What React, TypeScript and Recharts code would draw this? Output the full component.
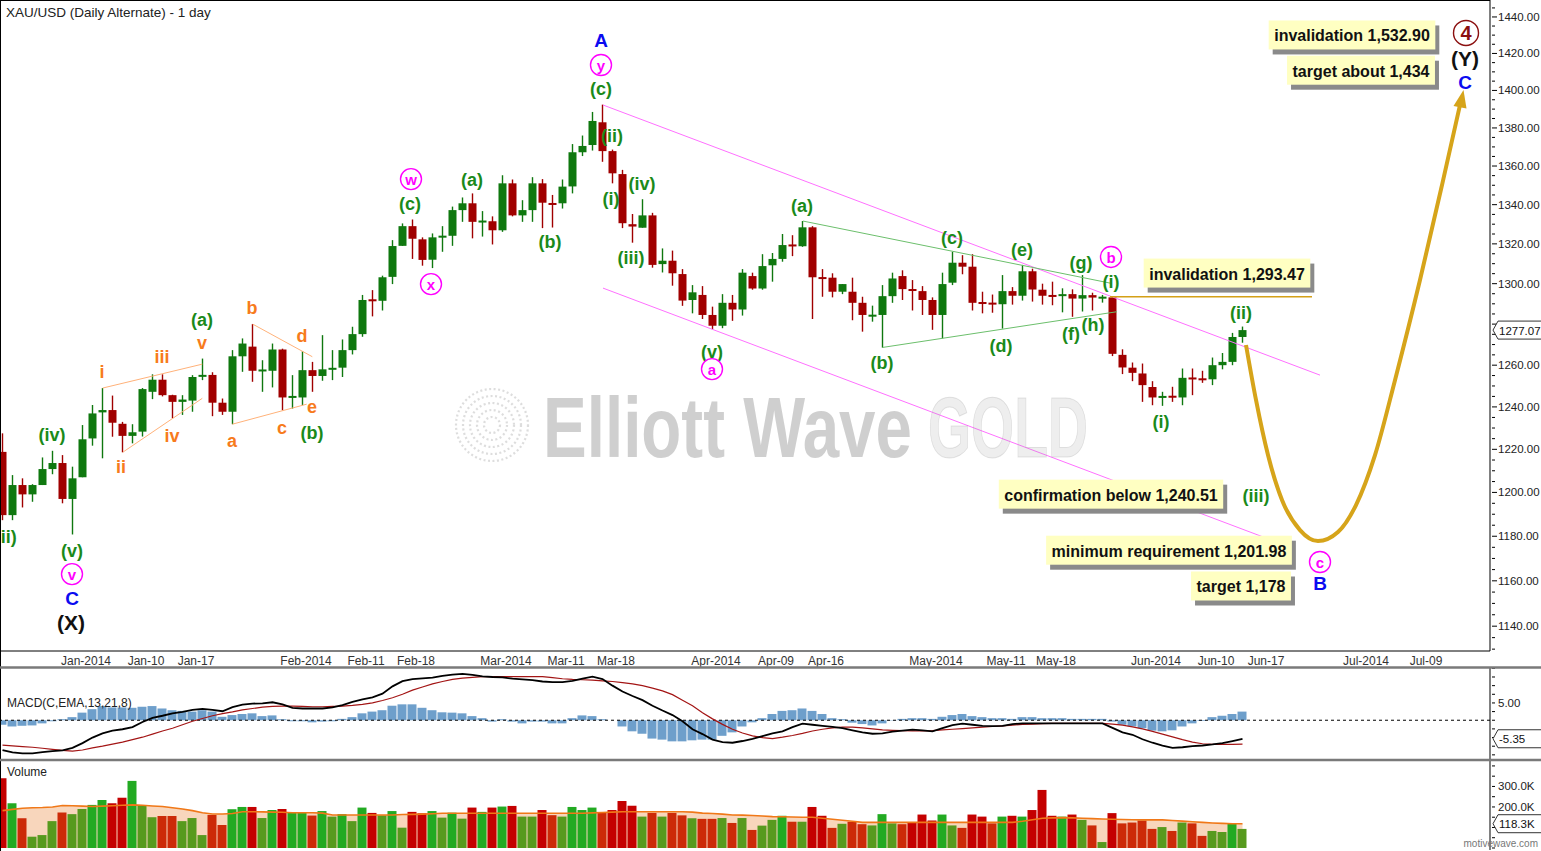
import React from 'react';
import {
  Area,
  Bar,
  Cell,
  ComposedChart,
  Line,
  ReferenceDot,
  ReferenceLine,
  XAxis,
  YAxis,
} from 'recharts';

const WIDTH = 1541;
const AXIS_W = 51;
const X_DOMAIN: [number, number] = [-0.25, 148.75];
const PRICE_DOMAIN: [number, number] = [1129.2, 1449.4];
const MACD_DOMAIN: [number, number] = [-11.2, 15.1];
const VOL_DOMAIN: [number, number] = [-9.8, 424];
const FONT = '"Liberation Sans", Arial, sans-serif';

const UP = '#0f780f';
const DOWN = '#a00000';
const GOLD = '#d6a41a';

// daily candles, index 0 .. 124 (last = Jun 13 2014): open, high, low, close
const candles: [number, number, number, number][] = [
  [1218.8, 1227.5, 1187.3, 1189.6], [1189.6, 1208.0, 1187.3, 1203.4], [1203.4, 1206.5, 1193.1, 1199.1],
  [1199.1, 1203.8, 1195.7, 1203.4], [1203.4, 1216.2, 1203.4, 1210.8], [1210.8, 1219.3, 1208.4, 1213.6],
  [1213.6, 1217.3, 1195.0, 1197.0], [1197.0, 1211.9, 1180.8, 1206.5], [1207.0, 1231.4, 1207.0, 1224.7],
  [1225.1, 1240.9, 1221.7, 1236.9], [1237.4, 1249.0, 1215.8, 1238.5], [1238.5, 1245.4, 1225.9, 1232.5],
  [1232.0, 1232.9, 1218.6, 1226.3], [1226.3, 1231.8, 1222.8, 1228.0], [1228.3, 1249.0, 1226.0, 1248.5],
  [1247.2, 1255.6, 1243.7, 1253.0], [1253.0, 1255.6, 1245.0, 1245.6], [1245.6, 1245.8, 1234.6, 1242.4],
  [1242.4, 1245.6, 1236.2, 1243.5], [1243.0, 1255.2, 1237.7, 1254.3], [1254.4, 1263.2, 1252.8, 1255.3],
  [1255.3, 1256.6, 1235.6, 1242.0], [1242.0, 1244.0, 1236.2, 1237.7], [1237.7, 1267.3, 1231.8, 1264.3],
  [1264.3, 1273.0, 1256.8, 1270.5], [1269.0, 1280.0, 1252.0, 1257.3], [1257.3, 1262.4, 1247.2, 1257.6],
  [1257.3, 1270.5, 1249.3, 1267.6], [1267.6, 1268.0, 1238.4, 1244.5], [1244.5, 1255.2, 1239.2, 1245.0],
  [1244.5, 1266.8, 1240.8, 1257.6], [1257.6, 1261.6, 1247.2, 1254.8], [1254.8, 1274.6, 1252.5, 1258.0],
  [1258.0, 1267.3, 1252.8, 1258.5], [1258.8, 1272.5, 1254.3, 1267.3], [1267.3, 1278.7, 1265.2, 1275.1],
  [1275.1, 1294.4, 1273.8, 1291.9], [1292.0, 1296.8, 1283.8, 1291.5], [1291.5, 1304.0, 1286.7, 1303.2],
  [1303.4, 1321.9, 1299.8, 1318.9], [1319.0, 1330.4, 1319.0, 1329.0], [1329.0, 1332.4, 1312.4, 1322.6],
  [1322.3, 1323.3, 1309.0, 1311.9], [1312.0, 1325.3, 1307.8, 1323.3], [1323.3, 1329.0, 1316.0, 1324.0],
  [1324.1, 1339.0, 1319.0, 1337.2], [1337.2, 1343.7, 1331.2, 1340.7], [1340.7, 1345.8, 1322.8, 1331.2],
  [1331.2, 1336.7, 1323.7, 1331.5], [1331.5, 1334.0, 1319.7, 1326.9], [1326.9, 1355.2, 1326.1, 1351.0],
  [1351.0, 1353.0, 1334.0, 1334.5], [1334.5, 1342.3, 1331.2, 1337.2], [1337.2, 1354.2, 1331.2, 1351.0],
  [1351.0, 1353.2, 1328.0, 1341.0], [1340.5, 1345.0, 1328.3, 1340.2], [1340.7, 1353.0, 1338.0, 1349.3],
  [1349.4, 1371.5, 1345.8, 1367.2], [1367.2, 1376.0, 1365.2, 1370.5], [1371.0, 1388.5, 1368.1, 1383.7],
  [1383.0, 1392.4, 1362.2, 1367.8], [1367.8, 1368.6, 1351.0, 1356.2], [1355.8, 1358.0, 1328.0, 1330.5],
  [1330.0, 1335.2, 1320.6, 1328.8], [1328.2, 1342.8, 1328.2, 1334.5], [1334.5, 1335.8, 1308.0, 1309.4],
  [1309.8, 1317.7, 1305.6, 1311.5], [1311.5, 1316.6, 1299.0, 1305.2], [1304.8, 1307.3, 1289.0, 1291.6],
  [1291.9, 1299.3, 1285.3, 1295.7], [1294.4, 1298.8, 1282.5, 1284.5], [1284.5, 1288.6, 1277.4, 1279.2],
  [1279.2, 1294.8, 1278.0, 1290.5], [1290.5, 1294.4, 1281.6, 1287.2], [1287.2, 1307.3, 1284.2, 1305.5],
  [1303.8, 1305.5, 1297.0, 1297.6], [1297.6, 1314.8, 1297.0, 1308.8], [1309.2, 1315.4, 1301.0, 1312.4],
  [1312.4, 1325.0, 1311.0, 1319.4], [1319.4, 1324.4, 1313.8, 1319.0], [1318.8, 1331.6, 1318.5, 1328.4],
  [1328.4, 1329.0, 1282.5, 1303.2], [1303.0, 1307.3, 1293.5, 1302.6], [1303.0, 1305.2, 1293.2, 1296.0],
  [1296.0, 1299.8, 1294.8, 1299.8], [1296.0, 1303.0, 1281.9, 1290.5], [1290.5, 1293.5, 1276.3, 1284.5],
  [1284.0, 1289.1, 1281.2, 1284.3], [1284.5, 1299.3, 1268.5, 1293.8], [1293.8, 1305.5, 1290.5, 1302.6],
  [1303.8, 1306.7, 1291.9, 1297.3], [1297.2, 1301.8, 1286.7, 1296.5], [1296.3, 1298.8, 1284.5, 1291.9],
  [1291.9, 1293.2, 1277.2, 1284.5], [1284.5, 1305.5, 1273.0, 1299.8], [1300.5, 1316.0, 1299.3, 1310.5],
  [1310.5, 1314.3, 1304.7, 1308.5], [1308.5, 1314.8, 1286.7, 1290.5], [1290.5, 1296.0, 1285.3, 1290.3],
  [1290.2, 1294.6, 1285.6, 1290.0], [1289.8, 1304.3, 1277.8, 1296.3], [1296.3, 1298.3, 1289.6, 1294.0],
  [1294.0, 1309.4, 1291.6, 1306.2], [1306.2, 1307.5, 1291.1, 1297.1], [1297.0, 1300.0, 1289.6, 1294.0],
  [1294.0, 1301.0, 1289.3, 1293.8], [1293.8, 1297.7, 1285.8, 1294.8], [1294.8, 1297.2, 1283.6, 1292.6],
  [1292.6, 1304.3, 1286.2, 1294.3], [1294.3, 1295.5, 1286.7, 1293.1], [1292.9, 1294.4, 1290.6, 1293.2],
  [1293.2, 1293.5, 1264.4, 1265.5], [1265.0, 1267.7, 1255.7, 1258.9], [1258.8, 1261.3, 1252.3, 1256.3],
  [1256.0, 1260.8, 1242.4, 1250.4], [1249.5, 1252.3, 1240.8, 1244.5], [1244.6, 1247.2, 1240.5, 1244.9],
  [1245.0, 1249.6, 1242.4, 1244.7], [1244.5, 1258.4, 1240.8, 1253.9], [1253.9, 1258.4, 1245.6, 1253.3],
  [1253.6, 1257.3, 1251.5, 1252.8], [1253.2, 1263.7, 1250.4, 1260.0], [1260.0, 1265.9, 1258.0, 1261.6],
  [1261.6, 1275.7, 1260.0, 1273.7], [1273.7, 1278.8, 1270.9, 1277.07],
];

// volume in thousands
const volume = [
  340, 218, 145, 55, 63, 131, 173, 165, 190, 210,
  234, 218, 245, 327, 206, 150, 156, 156, 131, 146,
  63, 161, 112, 189, 200, 200, 146, 185, 190, 173,
  173, 158, 180, 153, 165, 131, 197, 171, 159, 180,
  99, 176, 169, 180, 148, 172, 143, 197, 176, 197,
  202, 205, 153, 153, 185, 160, 153, 200, 185, 197,
  173, 185, 229, 206, 153, 171, 153, 171, 159, 145,
  142, 142, 146, 122, 146, 88, 109, 137, 157, 128,
  128, 200, 157, 98, 118, 128, 116, 110, 165, 120,
  116, 126, 163, 134, 163, 110, 98, 163, 153, 120,
  153, 157, 153, 185, 283, 157, 153, 163, 137, 110,
  29, 170, 120, 124, 134, 93, 102, 83, 124, 120,
  59, 83, 78, 120, 93,
];

const volumeAvg = [
  182, 188, 194, 196, 197, 200, 207, 206, 204, 202,
  204, 206, 208, 210, 208, 205, 202, 196, 190, 182,
  172, 166, 166, 168, 177, 177, 176, 175, 174, 172,
  172, 172, 170, 161, 161, 161, 161, 161, 161, 161,
  163, 164, 165, 167, 169, 169, 169, 169, 169, 169,
  169, 169, 169, 169, 169, 169, 169, 169, 169, 171,
  173, 175, 177, 177, 177, 177, 177, 177, 177, 175,
  170, 168, 165, 161, 160, 158, 156, 153, 152, 151,
  150, 150, 145, 140, 135, 130, 125, 125, 125, 125,
  125, 125, 125, 125, 125, 125, 125, 125, 125, 125,
  125, 125, 130, 138, 145, 147, 148, 147, 145, 143,
  141, 140, 139, 138, 137, 137, 137, 134, 131, 128,
  125, 122, 120, 118.5, 118.3,
];

const macdLine = [
  -8.6, -9.3, -9.6, -9.6, -9.2, -8.9, -8.7, -8.0, -6.6, -5.0,
  -3.8, -3.0, -2.6, -2.0, -0.5, 0.7, 1.3, 2.0, 2.4, 3.0,
  3.3, 3.0, 2.6, 3.8, 4.5, 4.8, 4.9, 5.2, 4.6, 3.6,
  3.4, 3.4, 3.4, 3.7, 4.4, 5.3, 6.0, 6.6, 7.7, 9.8,
  11.3, 11.9, 12.1, 12.3, 12.8, 13.2, 13.4, 13.1, 12.7, 12.5,
  12.4, 12.0, 11.8, 11.6, 11.2, 11.0, 11.0, 11.4, 12.0, 12.6,
  11.9, 10.0, 8.3, 7.0, 5.8, 4.2, 2.8, 1.5, -0.3, -2.6,
  -4.0, -5.6, -6.3, -6.5, -6.0, -5.4, -4.6, -3.8, -3.2, -2.0,
  -1.0, -1.3, -1.6, -1.9, -2.3, -2.9, -3.5, -3.9, -3.8, -3.3,
  -3.0, -2.7, -2.9, -3.2, -2.3, -1.4, -1.0, -1.3, -1.6, -1.7,
  -1.6, -1.1, -0.9, -0.9, -0.9, -0.9, -0.9, -0.9, -0.9, -0.9,
  -0.9, -2.2, -3.5, -4.2, -5.5, -6.5, -7.3, -8.0, -7.8, -7.5,
  -7.3, -7.0, -6.6, -6.0, -5.35,
];

const signalLine = [
  -7.2, -7.4, -7.6, -7.8, -8.1, -8.4, -8.7, -8.9, -8.6, -8.0,
  -7.5, -6.9, -6.3, -5.6, -4.9, -4.0, -3.1, -2.3, -1.3, -0.3,
  0.5, 1.3, 1.9, 2.4, 3.0, 3.4, 3.8, 4.0, 4.1, 4.1,
  4.0, 3.9, 3.9, 4.0, 4.1, 4.3, 4.6, 5.0, 5.7, 6.5,
  7.5, 8.7, 9.6, 10.5, 11.2, 11.8, 12.2, 12.4, 12.6, 12.6,
  12.6, 12.6, 12.6, 12.6, 12.6, 12.3, 12.0, 11.8, 11.7, 11.6,
  11.4, 11.2, 10.9, 10.5, 10.0, 9.3, 8.5, 7.4, 5.8, 4.2,
  2.2, 0.4, -1.2, -2.6, -3.7, -4.5, -5.0, -5.3, -4.9, -4.4,
  -3.8, -3.1, -2.6, -2.2, -2.0, -2.0, -2.2, -2.5, -2.8, -2.9,
  -3.0, -3.1, -3.1, -3.0, -2.8, -2.6, -2.4, -2.2, -2.0, -1.8,
  -1.6, -1.4, -1.2, -1.1, -1.0, -0.9, -0.9, -0.9, -0.9, -0.9,
  -0.9, -1.1, -1.4, -1.9, -2.5, -3.2, -4.0, -4.8, -5.6, -6.3,
  -6.8, -7.0, -7.0, -7.0, -6.9,
];

const histogram = [
  -1.3, -1.8, -1.6, -1.5, -0.9, -0.3, 0.3, 0.9, 2.2, 3.2,
  4.1, 3.7, 3.7, 3.6, 3.9, 4.1, 3.4, 2.9, 2.7, 2.5,
  2.9, 2.5, 1.0, 1.5, 1.8, 2.0, 1.2, 1.4, 0.3, -0.3,
  -0.3, -0.6, -0.4, -0.3, 0.4, 0.9, 2.0, 2.5, 2.9, 4.2,
  4.6, 4.6, 3.6, 2.9, 2.3, 2.2, 2.0, 1.2, 0.6, -0.4,
  0.3, -0.4, -0.9, -0.4, -0.4, -0.9, -0.9, 0.6, 1.4, 1.2,
  0.3, 0.0, -1.8, -3.2, -3.9, -5.3, -5.6, -6.1, -6.1, -5.8,
  -5.6, -5.6, -4.5, -3.5, -1.8, -0.6, 0.6, 1.8, 2.7, 2.9,
  3.4, 2.7, 1.8, 0.6, 0.3, -0.7, -1.1, -1.5, -0.9, -0.1,
  0.4, 0.6, 0.6, 0.4, 1.0, 1.5, 1.8, 1.2, 0.9, 0.6,
  0.6, 0.4, 0.9, 0.9, 0.6, 0.6, 0.6, 0.4, 0.4, 0.4,
  0.4, -0.4, -1.3, -1.8, -2.3, -3.0, -3.2, -2.9, -1.8, -0.9,
  -0.2, 0.9, 1.3, 1.8, 2.5,
];

const dateTicks = [8, 14, 19, 30, 36, 41, 50, 56, 61, 71, 77, 82, 93, 100, 105, 115, 121, 126, 136, 142];
const dateLabels = [
  'Jan-2014', 'Jan-10', 'Jan-17', 'Feb-2014', 'Feb-11', 'Feb-18', 'Mar-2014', 'Mar-11', 'Mar-18',
  'Apr-2014', 'Apr-09', 'Apr-16', 'May-2014', 'May-11', 'May-18', 'Jun-2014', 'Jun-10', 'Jun-17',
  'Jul-2014', 'Jul-09',
];

const priceLabels = [1140, 1160, 1180, 1200, 1220, 1240, 1260, 1280, 1300, 1320, 1340, 1360, 1380, 1400, 1420, 1440];

// projected path for wave C
const projIdx = [124.35, 125.35, 126.55, 127.95, 129.75, 131.55, 133.55, 135.35, 137.25, 139.25, 141.75, 143.95, 145.75];
const projPrice = [1269.8, 1243.3, 1217.3, 1196.5, 1182.8, 1177.8, 1181.9, 1194.2, 1217.3, 1252.8, 1301.8, 1350.1, 1392.2];

// wave labels: [index, price, text]
const greenLabels: [number, number, string][] = [
  [0.32, 1179.6, '(ii)'], [4.95, 1226.7, '(iv)'], [6.95, 1173.3, '(v)'], [19.95, 1282.0, '(a)'],
  [30.95, 1227.6, '(b)'], [40.75, 1340.3, '(c)'], [46.95, 1352.7, '(a)'], [54.75, 1320.8, '(b)'],
  [59.85, 1400.8, '(c)'], [60.95, 1375.7, '(ii)'], [60.85, 1342.9, '(i)'], [63.95, 1350.6, '(iv)'],
  [62.85, 1312.9, '(iii)'], [70.95, 1266.4, '(v)'], [79.95, 1339.3, '(a)'], [87.95, 1261.0, '(b)'],
  [94.95, 1323.0, '(c)'], [99.85, 1269.3, '(d)'], [101.95, 1316.9, '(e)'], [106.85, 1275.1, '(f)'],
  [107.85, 1310.3, '(g)'], [109.05, 1279.5, '(h)'], [110.85, 1300.8, '(i)'], [123.85, 1285.4, '(ii)'],
  [115.85, 1232.8, '(i)'], [125.35, 1198.3, '(iii)'],
];
const orangeLabels: [number, number, string][] = [
  [9.95, 1256.7, 'i'], [11.85, 1211.7, 'ii'], [15.95, 1263.9, 'iii'], [16.95, 1226.2, 'iv'],
  [19.95, 1270.7, 'v'], [22.95, 1223.9, 'a'], [24.95, 1287.9, 'b'], [27.95, 1230.0, 'c'],
  [29.95, 1274.2, 'd'], [30.95, 1239.9, 'e'],
];
const minuteLabels: [number, number, string][] = [
  [6.95, 1163.0, 'v'], [40.85, 1353.2, 'w'], [42.85, 1299.8, 'x'], [59.85, 1413.7, 'y'],
  [70.95, 1258.1, 'a'], [110.85, 1313.4, 'b'], [131.75, 1168.4, 'c'],
];
const minorLabels: [number, number, string][] = [
  [59.85, 1426.8, 'A'], [6.95, 1152.3, 'C'], [131.75, 1158.6, 'B'], [146.25, 1404.0, 'C'],
];
const intermediateLabels: [number, number, string][] = [
  [6.85, 1141.8, '(X)'], [146.25, 1417.5, '(Y)'],
];
const primaryLabels: [number, number, string][] = [[146.35, 1431.2, '4']];

const callouts: [number, number, string][] = [
  [134.95, 1430.1, 'invalidation 1,532.90'],
  [135.85, 1410.9, 'target about 1,434'],
  [122.45, 1305.3, 'invalidation 1,293.47'],
  [110.85, 1199.2, 'confirmation below 1,240.51'],
  [116.65, 1173.7, 'minimum requirement 1,201.98'],
  [123.85, 1157.7, 'target 1,178'],
];

// trend lines: [[i1, p1], [i2, p2]]
const channelLines: [number, number][][] = [
  [[60.05, 1392.2], [131.75, 1255.2]],
  [[60.05, 1297.8], [128.75, 1175.1]],
];
const triangleLines: [number, number][][] = [
  [[80.05, 1331.6], [110.75, 1300.3]],
  [[88.0, 1268.6], [111.45, 1286.1]],
];
const diagonalLines: [number, number][][] = [
  [[10.02, 1249.0], [19.98, 1260.5]],
  [[12.02, 1218.6], [19.98, 1244.1]],
  [[25.02, 1280.0], [30.98, 1264.1]],
  [[22.98, 1231.8], [30.42, 1241.3]],
];
const invalidationLine: [number, number, number] = [110.75, 130.95, 1293.47];

const priceData = candles.map(([o, h, l, c], i) => ({ i, o, h, l, c }));
const projection = projIdx.map((i, k) => ({ i, p: projPrice[k] }));
const macdData = macdLine.map((m, i) => ({ i, m, s: signalLine[i], h: histogram[i] }));
const volData = volume.map((v, i) => ({ i, v, a: volumeAvg[i] }));

const lastClose = candles[candles.length - 1][3];
const lastMacd = macdLine[macdLine.length - 1];
const lastAvg = volumeAvg[volumeAvg.length - 1];

const BOLD_W: Record<string, number> = {
  a: 556, b: 611, c: 556, d: 611, e: 556, f: 333, g: 611, h: 611, i: 278, j: 278, k: 556, l: 278, m: 889,
  n: 611, o: 611, p: 611, q: 611, r: 389, s: 556, t: 333, u: 611, v: 556, w: 778, x: 556, y: 556, z: 500,
  ' ': 278, ',': 278, '.': 278,
};
const boldWidth = (s: string, size: number) =>
  s.split('').reduce((acc, ch) => acc + (BOLD_W[ch] ?? 556), 0) * size / 1000;

const Candle = (props: any) => {
  const { x, y, width, height, payload } = props;
  if (!payload) return null;
  const { o, h, l, c } = payload;
  const top = Math.min(y, y + height);
  const hgt = Math.abs(height);
  const lh = Math.log(h);
  const span = lh - Math.log(l) || 1;
  const py = (v: number) => top + ((lh - Math.log(v)) / span) * hgt;
  const color = c >= o ? UP : DOWN;
  const cx = x + width / 2;
  let bt = py(Math.max(o, c));
  let bb = py(Math.min(o, c));
  if (bb - bt < 2) {
    const mid = (bt + bb) / 2;
    bt = mid - 1;
    bb = mid + 1;
  }
  return (
    <g>
      <line x1={cx} x2={cx} y1={top} y2={top + hgt} stroke={color} strokeWidth={1.4} />
      <rect x={x} y={bt} width={width} height={bb - bt} fill={color} />
    </g>
  );
};

const Tag = ({ x, y, text }: { x: number; y: number; text: string }) => (
  <g>
    <path
      d={`M${x + 1},${y} L${x + 6},${y - 9} L${x + 50},${y - 9} L${x + 50},${y + 9} L${x + 6},${y + 9} Z`}
      fill="#fff"
      stroke="#333"
    />
    <text x={x + 7} y={y + 4.5} fontSize={11.5} fontFamily={FONT} fill="#111">
      {text}
    </text>
  </g>
);

const PriceTick = (props: any) => {
  const { x, y, payload } = props;
  const v = payload.value as number;
  if (v === lastClose) return <Tag x={x} y={y} text={v.toFixed(2)} />;
  const major = priceLabels.includes(v);
  const hide = Math.abs(v - lastClose) < 4;
  return (
    <g>
      <line x1={x} x2={x + (major ? 5 : 3)} y1={y} y2={y} stroke="#000" />
      {major && !hide && (
        <text x={x + 6} y={y + 4} fontSize={11.5} fontFamily={FONT} fill="#222">
          {v.toFixed(2)}
        </text>
      )}
    </g>
  );
};

const MacdTick = (props: any) => {
  const { x, y, payload } = props;
  const v = payload.value as number;
  if (v === lastMacd) return <Tag x={x} y={y} text={v.toFixed(2)} />;
  return (
    <g>
      <line x1={x} x2={x + 3} y1={y} y2={y} stroke="#000" />
      {v === 5 && (
        <text x={x + 6} y={y + 4} fontSize={11.5} fontFamily={FONT} fill="#222">
          5.00
        </text>
      )}
    </g>
  );
};

const VolTick = (props: any) => {
  const { x, y, payload } = props;
  const v = payload.value as number;
  if (v === lastAvg) return <Tag x={x} y={y} text={`${v.toFixed(1)}K`} />;
  return (
    <g>
      <line x1={x} x2={x + 3} y1={y} y2={y} stroke="#000" />
      {(v === 200 || v === 300) && (
        <text x={x + 6} y={y + 4} fontSize={11.5} fontFamily={FONT} fill="#222">
          {v.toFixed(1)}K
        </text>
      )}
    </g>
  );
};

const DateTick = (props: any) => {
  const { x, y, payload } = props;
  const k = dateTicks.indexOf(payload.value);
  return (
    <text x={x + 3.5} y={y + 12} textAnchor="middle" fontSize={12} fontFamily={FONT} fill="#333">
      {dateLabels[k]}
    </text>
  );
};

const WaveText = ({ cx, cy, text, color, size }: any) => (
  <text
    x={cx}
    y={cy}
    textAnchor="middle"
    dominantBaseline="central"
    fontSize={size}
    fontWeight="bold"
    fontFamily={FONT}
    fill={color}
  >
    {text}
  </text>
);

const Circled = ({ cx, cy, text, color, r, size }: any) => (
  <g>
    <circle cx={cx} cy={cy} r={r} fill="#fff" stroke={color} strokeWidth={1.4} />
    <text
      x={cx}
      y={cy + 0.5}
      textAnchor="middle"
      dominantBaseline="central"
      fontSize={size}
      fontWeight="bold"
      fontFamily={FONT}
      fill={color}
    >
      {text}
    </text>
  </g>
);

const Callout = ({ cx, cy, text }: any) => {
  const w = boldWidth(text, 16) + 11;
  const h = 29;
  const x = cx - w / 2;
  const y = cy - h / 2;
  return (
    <g>
      <rect x={x + 4} y={y + 5} width={w} height={h} fill="#8a8a8a" />
      <rect x={x} y={y} width={w} height={h} fill="#ffffc2" />
      <text
        x={cx}
        y={cy + 1}
        textAnchor="middle"
        dominantBaseline="central"
        fontSize={16}
        fontWeight="bold"
        fontFamily={FONT}
        fill="#111"
      >
        {text}
      </text>
    </g>
  );
};

const Arrowhead = ({ cx, cy }: any) => (
  <polygon
    points={`${cx + 3.5},${cy - 15} ${cx - 6.5},${cy + 1} ${cx + 6.5},${cy + 3.5}`}
    fill={GOLD}
  />
);

const minorPriceTicks: number[] = [];
for (let v = 1130; v <= 1445; v += 5) minorPriceTicks.push(v);
const priceTicks = [...minorPriceTicks, lastClose];
const macdTicks = [-10, -7.5, -5, -2.5, 0, 2.5, 5, 7.5, 10, 12.5, 15, lastMacd];
const volTicks = [0, 50, 100, 150, 200, 250, 300, 350, 400, lastAvg];

const segLines = (lines: [number, number][][], color: string, key: string) =>
  lines.map((ln, k) => (
    <ReferenceLine
      key={`${key}${k}`}
      segment={[{ x: ln[0][0], y: ln[0][1] }, { x: ln[1][0], y: ln[1][1] }]}
      stroke={color}
      strokeWidth={1}
      ifOverflow="visible"
    />
  ));

const labelDots = (items: [number, number, string][], render: (t: string) => (p: any) => any, key: string) =>
  items.map(([i, p, t], k) => (
    <ReferenceDot key={`${key}${k}`} x={i} y={p} r={0} ifOverflow="visible" shape={render(t)} />
  ));

export default function App() {
  return (
    <div style={{ position: 'absolute', left: 0, top: 0, width: WIDTH, height: 851, background: '#fff' }}>
      <div style={{ position: 'absolute', left: 0, top: 0 }}>
        <ComposedChart width={WIDTH} height={668} data={priceData} margin={{ top: 0, right: 0, bottom: 0, left: 0 }}>
          <XAxis
            type="number"
            dataKey="i"
            domain={X_DOMAIN}
            allowDataOverflow
            ticks={dateTicks}
            interval={0}
            height={17}
            tickSize={0}
            tickLine={false}
            axisLine={{ stroke: '#000' }}
            tick={(p: any) => <DateTick {...p} />}
          />
          <XAxis xAxisId="proj" type="number" dataKey="i" domain={X_DOMAIN} allowDataOverflow hide />
          <YAxis
            orientation="right"
            type="number"
            scale="log"
            domain={PRICE_DOMAIN}
            allowDataOverflow
            ticks={priceTicks}
            interval={0}
            width={AXIS_W}
            tickSize={0}
            tickLine={false}
            axisLine={{ stroke: '#000' }}
            tick={(p: any) => <PriceTick {...p} />}
          />
          {segLines(channelLines, '#ff70ff', 'ch')}
          {segLines(triangleLines, '#6cbf6c', 'tr')}
          {segLines(diagonalLines, '#ffb27a', 'dg')}
          <ReferenceLine
            segment={[
              { x: invalidationLine[0], y: invalidationLine[2] },
              { x: invalidationLine[1], y: invalidationLine[2] },
            ]}
            stroke="#d4a017"
            strokeWidth={1.5}
            ifOverflow="visible"
          />
          <Bar
            dataKey={(d: any) => [d.l, d.h]}
            barSize={8}
            shape={(p: any) => <Candle {...p} />}
            isAnimationActive={false}
          />
          <Line
            xAxisId="proj"
            data={projection}
            dataKey="p"
            type="monotone"
            stroke={GOLD}
            strokeWidth={4}
            dot={false}
            activeDot={false}
            isAnimationActive={false}
          />
          <ReferenceDot
            x={projIdx[projIdx.length - 1]}
            y={projPrice[projPrice.length - 1]}
            r={0}
            ifOverflow="visible"
            shape={(p: any) => <Arrowhead cx={p.cx} cy={p.cy} />}
          />
          {labelDots(greenLabels, (t) => (p: any) => <WaveText cx={p.cx} cy={p.cy} text={t} color="#1a8a1a" size={18} />, 'g')}
          {labelDots(orangeLabels, (t) => (p: any) => <WaveText cx={p.cx} cy={p.cy} text={t} color="#f77b1c" size={18} />, 'o')}
          {labelDots(minuteLabels, (t) => (p: any) => <Circled cx={p.cx} cy={p.cy} text={t} color="#ff00ff" r={10.5} size={15} />, 'm')}
          {labelDots(minorLabels, (t) => (p: any) => <WaveText cx={p.cx} cy={p.cy} text={t} color="#0b0bf0" size={19} />, 'b')}
          {labelDots(intermediateLabels, (t) => (p: any) => <WaveText cx={p.cx} cy={p.cy} text={t} color="#111" size={21} />, 'k')}
          {labelDots(primaryLabels, (t) => (p: any) => <Circled cx={p.cx} cy={p.cy} text={t} color="#8b1010" r={12.5} size={20} />, 'r')}
          {labelDots(callouts, (t) => (p: any) => <Callout cx={p.cx} cy={p.cy} text={t} />, 'c')}
        </ComposedChart>
      </div>

      <div style={{ position: 'absolute', left: 0, top: 668 }}>
        <ComposedChart width={WIDTH} height={91} data={macdData} margin={{ top: 0, right: 0, bottom: 0, left: 0 }}>
          <XAxis type="number" dataKey="i" domain={X_DOMAIN} allowDataOverflow hide />
          <YAxis
            orientation="right"
            type="number"
            domain={MACD_DOMAIN}
            allowDataOverflow
            ticks={macdTicks}
            interval={0}
            width={AXIS_W}
            tickSize={0}
            tickLine={false}
            axisLine={{ stroke: '#000' }}
            tick={(p: any) => <MacdTick {...p} />}
          />
          <Bar dataKey="h" barSize={9} fill="#6e9fcb" isAnimationActive={false} />
          <ReferenceLine y={0} stroke="#000" strokeDasharray="3 3" ifOverflow="visible" />
          <Line dataKey="s" type="linear" stroke="#a31515" strokeWidth={1.2} dot={false} isAnimationActive={false} />
          <Line dataKey="m" type="linear" stroke="#000" strokeWidth={1.8} dot={false} isAnimationActive={false} />
        </ComposedChart>
      </div>

      <div style={{ position: 'absolute', left: 0, top: 761 }}>
        <ComposedChart width={WIDTH} height={89} data={volData} margin={{ top: 0, right: 0, bottom: 0, left: 0 }}>
          <XAxis type="number" dataKey="i" domain={X_DOMAIN} allowDataOverflow hide />
          <YAxis
            orientation="right"
            type="number"
            domain={VOL_DOMAIN}
            allowDataOverflow
            ticks={volTicks}
            interval={0}
            width={AXIS_W}
            tickSize={0}
            tickLine={false}
            axisLine={{ stroke: '#000' }}
            tick={(p: any) => <VolTick {...p} />}
          />
          <Area dataKey="a" type="linear" stroke="none" fill="#f8d6bc" fillOpacity={1} isAnimationActive={false} />
          <Bar dataKey="v" barSize={9} isAnimationActive={false}>
            {volData.map((d, k) => {
              const up = candles[k][3] >= candles[k][0];
              const strong = d.v > d.a;
              const fill = up ? (strong ? '#22aa22' : '#579a1e') : strong ? '#c40000' : '#cc2a08';
              return <Cell key={k} fill={fill} />;
            })}
          </Bar>
          <Line dataKey="a" type="linear" stroke="#f07818" strokeWidth={1.6} dot={false} isAnimationActive={false} />
        </ComposedChart>
      </div>

      <svg
        width={WIDTH}
        height={851}
        style={{ position: 'absolute', left: 0, top: 0, pointerEvents: 'none' }}
      >
        <g opacity={0.9}>
          {[8, 15, 22, 29, 36].map((r) => (
            <circle
              key={r}
              cx={492}
              cy={425}
              r={r}
              fill="none"
              stroke="rgba(150,150,150,0.35)"
              strokeWidth={2.2}
              strokeDasharray="2 2.5"
            />
          ))}
        </g>
        <text
          x={543}
          y={457}
          fontSize={86}
          fontWeight="bold"
          fontFamily='"Liberation Sans Narrow", "Liberation Sans", sans-serif'
          textLength={369}
          lengthAdjust="spacingAndGlyphs"
          fill="rgba(130,130,130,0.38)"
        >
          Elliott Wave
        </text>
        <text
          x={928}
          y={457}
          fontSize={86}
          fontWeight="bold"
          fontFamily='"Liberation Sans Narrow", "Liberation Sans", sans-serif'
          textLength={160}
          lengthAdjust="spacingAndGlyphs"
          fill="rgba(170,170,170,0.2)"
          stroke="rgba(150,150,150,0.25)"
        >
          GOLD
        </text>
        <line x1={0} x2={1490} y1={0.5} y2={0.5} stroke="#000" />
        <line x1={0.5} x2={0.5} y1={0} y2={851} stroke="#000" />
        <line x1={0} x2={WIDTH} y1={667.5} y2={667.5} stroke="#7a7a7a" strokeWidth={2.5} />
        <line x1={0} x2={WIDTH} y1={760} y2={760} stroke="#7a7a7a" strokeWidth={2.5} />
        <text x={6} y={17} fontSize={13.5} fontFamily={FONT} fill="#222">
          XAU/USD (Daily Alternate) - 1 day
        </text>
        <text x={7} y={707} fontSize={12} fontFamily={FONT} fill="#222">
          MACD(C,EMA,13,21,8)
        </text>
        <text x={7} y={776} fontSize={12} fontFamily={FONT} fill="#222">
          Volume
        </text>
        <text x={1538} y={847} textAnchor="end" fontSize={10} fontFamily={FONT} fill="#777">
          motivewave.com
        </text>
      </svg>
    </div>
  );
}
